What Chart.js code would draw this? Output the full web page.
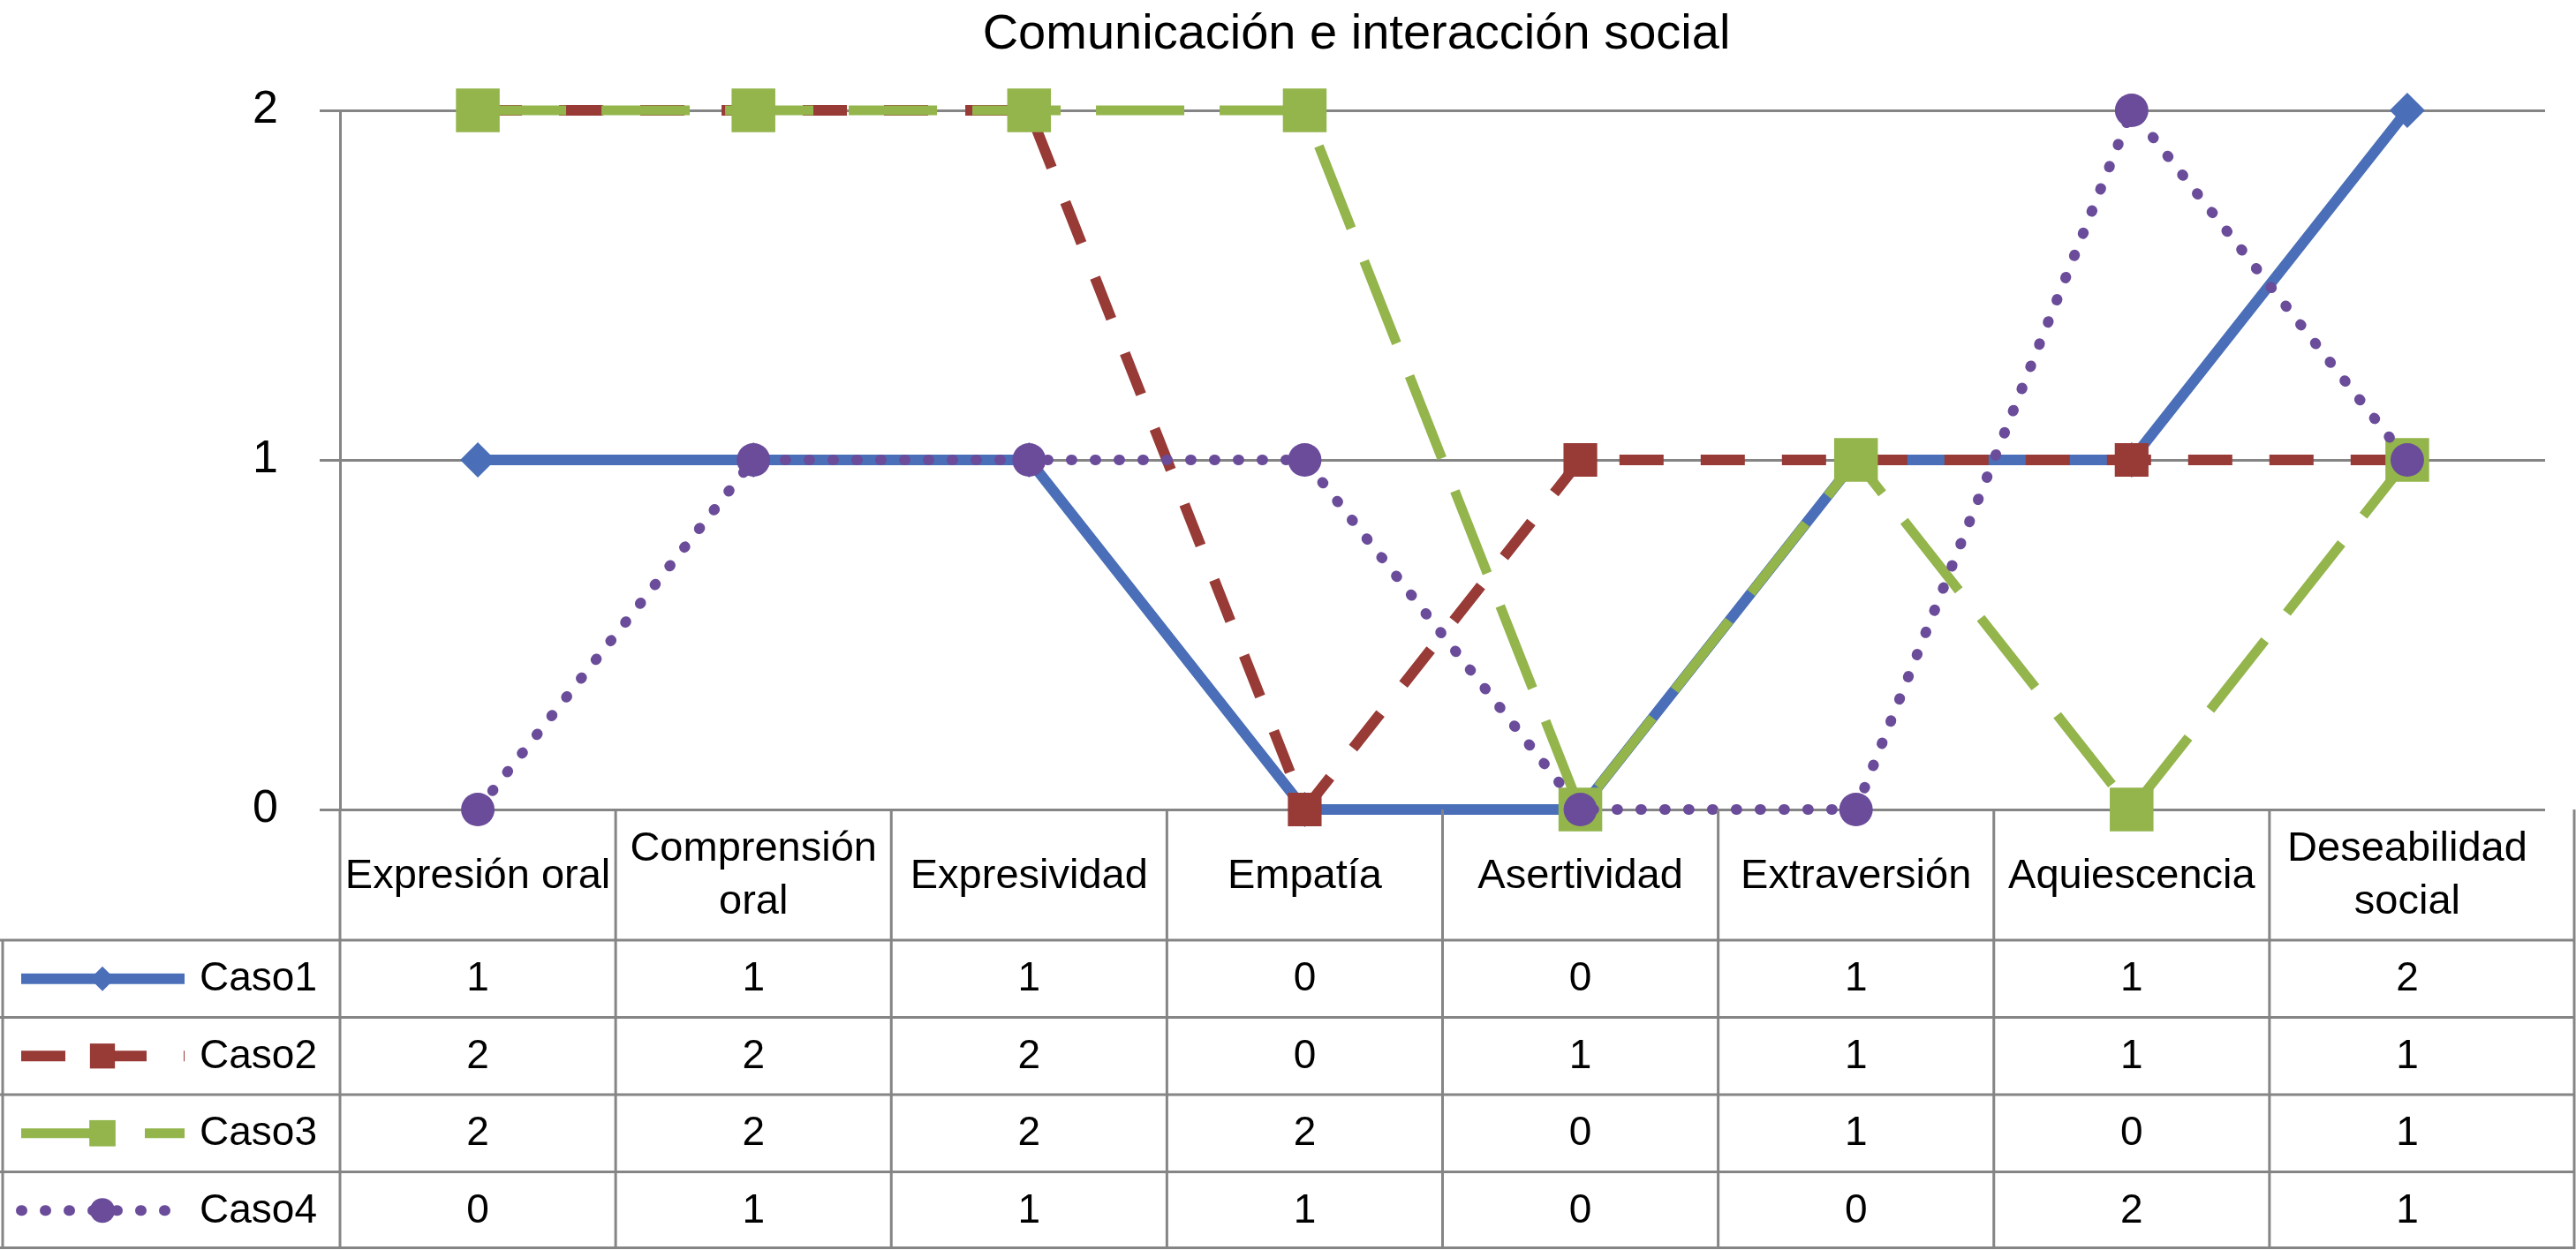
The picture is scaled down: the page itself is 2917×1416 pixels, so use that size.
<!DOCTYPE html>
<html>
<head>
<meta charset="utf-8">
<script src="https://cdn.jsdelivr.net/npm/chart.js@4.4.1/dist/chart.umd.min.js"></script>
<style>
  html, body { margin: 0; padding: 0; background: #fff; }
  canvas { display: block; }
</style>
</head>
<body>
<canvas id="chart" width="2917" height="1416"></canvas>
<script>
  // data
  var categories = ['Expresión oral', ['Comprensión', 'oral'], 'Expresividad', 'Empatía',
                    'Asertividad', 'Extraversión', 'Aquiescencia', ['Deseabilidad', 'social']];
  var seriesNames = ['Caso1', 'Caso2', 'Caso3', 'Caso4'];
  var caso1 = [1, 1, 1, 0, 0, 1, 1, 2];
  var caso2 = [2, 2, 2, 0, 1, 1, 1, 1];
  var caso3 = [2, 2, 2, 2, 0, 1, 0, 1];
  var caso4 = [0, 1, 1, 1, 0, 0, 2, 1];
  var yTicks = [0, 1, 2];
  var chartTitle = 'Comunicación e interacción social';

  var FONT = "'Liberation Sans', Arial, Helvetica, sans-serif";
  var GRID = '#858585';

  // legend-key marker sizes (smaller than on the plot)
  var keyRadius = [14, 20, 21, 14];

  // draws the title and the data table under the plot (Excel style table with legend keys)
  var dataTable = {
    id: 'dataTable',
    afterDraw: function (chart) {
      var ctx = chart.ctx;
      var area = chart.chartArea;
      var xs = chart.scales.x;
      var n = categories.length;
      var colW = (area.right - area.left) / n;
      var top = area.bottom;
      var headH = 148;
      var rowH = 87.5;
      var bottom = top + headH + rowH * chart.data.datasets.length;
      var rightX = chart.width - 2;

      ctx.save();

      // title
      ctx.fillStyle = '#000';
      ctx.font = '56px ' + FONT;
      ctx.textAlign = 'center';
      ctx.textBaseline = 'middle';
      ctx.fillText(chartTitle, 1536, 40);

      // table lines
      ctx.strokeStyle = GRID;
      ctx.lineWidth = 3;
      ctx.beginPath();
      for (var i = 0; i <= n; i++) {
        var x = i === n ? rightX : area.left + i * colW;
        ctx.moveTo(x, top);
        ctx.lineTo(x, bottom);
      }
      ctx.moveTo(3, top + headH);
      ctx.lineTo(3, bottom);
      for (var r = 0; r <= chart.data.datasets.length; r++) {
        var y = Math.min(top + headH + r * rowH, bottom - 1.5);
        ctx.moveTo(0, y);
        ctx.lineTo(rightX, y);
      }
      ctx.stroke();

      // category headers
      ctx.fillStyle = '#000';
      ctx.font = '47px ' + FONT;
      ctx.textAlign = 'center';
      ctx.textBaseline = 'middle';
      for (var c = 0; c < n; c++) {
        var cx = xs.getPixelForValue(c);
        var lab = categories[c];
        var cy = top + headH / 2;
        if (Array.isArray(lab)) {
          ctx.fillText(lab[0], cx, cy - 29);
          ctx.fillText(lab[1], cx, cy + 31);
        } else {
          ctx.fillText(lab, cx, cy + 2);
        }
      }

      // rows: legend key + values
      ctx.font = '46px ' + FONT;
      chart.data.datasets.forEach(function (ds, k) {
        var cy = top + headH + rowH * k + rowH / 2;
        ctx.save();
        ctx.strokeStyle = ds.borderColor;
        ctx.lineWidth = ds.borderWidth;
        ctx.lineCap = ds.borderCapStyle || 'butt';
        ctx.setLineDash(ds.borderDash || []);
        ctx.beginPath();
        ctx.moveTo(24, cy);
        ctx.lineTo(209, cy);
        ctx.stroke();
        ctx.restore();
        ctx.save();
        ctx.fillStyle = ds.pointBackgroundColor;
        ctx.strokeStyle = ds.pointBorderColor;
        Chart.helpers.drawPoint(ctx, {
          pointStyle: ds.pointStyle, radius: keyRadius[k], rotation: 0, borderWidth: 0
        }, 116, cy);
        ctx.restore();

        ctx.fillStyle = '#000';
        ctx.textAlign = 'left';
        ctx.fillText(ds.label, 226, cy + 1);
        ctx.textAlign = 'center';
        ds.data.forEach(function (v, c) {
          ctx.fillText(String(v), xs.getPixelForValue(c), cy + 1);
        });
      });

      ctx.restore();
    }
  };

  function series(label, data, color, width, dash, cap, style, radius, order) {
    return {
      label: label,
      data: data,
      borderColor: color,
      backgroundColor: color,
      borderWidth: width,
      borderDash: dash,
      borderCapStyle: cap,
      pointStyle: style,
      pointRadius: radius,
      pointBackgroundColor: color,
      pointBorderColor: color,
      pointBorderWidth: 0,
      tension: 0,
      clip: false,
      order: order
    };
  }

  var chart = new Chart(document.getElementById('chart'), {
    type: 'line',
    data: {
      labels: categories,
      datasets: [
        series(seriesNames[0], caso1, '#4A6FB8', 12, [], 'butt', 'rectRot', 20, 4),
        series(seriesNames[1], caso2, '#983A36', 12, [50, 42], 'butt', 'rect', 27, 3),
        series(seriesNames[2], caso3, '#93B54C', 11, [100, 40], 'butt', 'rect', 35, 2),
        series(seriesNames[3], caso4, '#6A4C9A', 12, [1, 26], 'round', 'circle', 19, 1)
      ]
    },
    options: {
      responsive: false,
      devicePixelRatio: 1,
      animation: false,
      layout: {
        padding: { top: 125, bottom: 499, left: 0, right: 0 }
      },
      plugins: {
        legend: { display: false },
        title: { display: false },
        tooltip: { enabled: false }
      },
      scales: {
        x: {
          type: 'category',
          display: false,
          offset: true
        },
        y: {
          min: 0,
          max: 2,
          afterFit: function (s) { s.width = 385; },
          afterBuildTicks: function (s) { s.ticks = yTicks.map(function (v) { return { value: v }; }); },
          ticks: {
            color: '#000',
            padding: 47,
            font: { size: 52, family: FONT }
          },
          grid: { color: GRID, lineWidth: 3, tickLength: 23, drawTicks: true },
          border: { display: true, color: GRID, width: 3 }
        }
      }
    },
    plugins: [dataTable]
  });
</script>
</body>
</html>
